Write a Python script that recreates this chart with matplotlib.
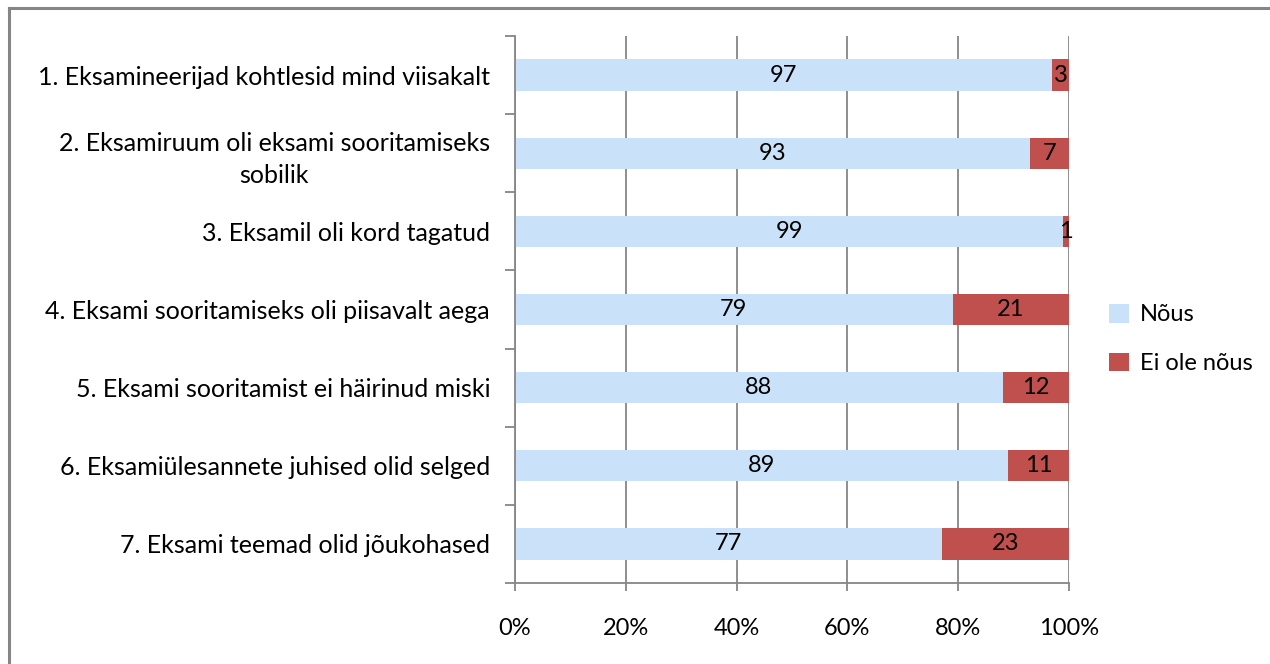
import matplotlib
matplotlib.use("Agg")
import matplotlib.pyplot as plt
from matplotlib.lines import Line2D
import numpy as np

plt.rcParams['font.family'] = ['Lato', 'DejaVu Sans']

categories = [
    "1. Eksamineerijad kohtlesid mind viisakalt",
    "2. Eksamiruum oli eksami sooritamiseks\nsobilik",
    "3. Eksamil oli kord tagatud",
    "4. Eksami sooritamiseks oli piisavalt aega",
    "5. Eksami sooritamist ei häirinud miski",
    "6. Eksamiülesannete juhised olid selged",
    "7. Eksami teemad olid jõukohased",
]
nous = [97, 93, 99, 79, 88, 89, 77]
ei_nous = [3, 7, 1, 21, 12, 11, 23]
series_names = ["Nõus", "Ei ole nõus"]
x_ticks = [0, 20, 40, 60, 80, 100]
x_ticklabels = ["0%", "20%", "40%", "60%", "80%", "100%"]

c_blue = "#C9E2FA"
c_red = "#C0504D"
gray = "#868686"

W, H = 1270, 664
fig = plt.figure(figsize=(W / 100, H / 100), dpi=100)

# outer frame (top and left)
fig.add_artist(Line2D([9 / W, 1268 / W], [1 - 8 / H, 1 - 8 / H], color=gray, lw=2.2))
fig.add_artist(Line2D([9 / W, 9 / W], [0, 1 - 8 / H], color=gray, lw=2.2))

ax = fig.add_axes([515 / W, 1 - 583 / H, (1069 - 515) / W, (583 - 36) / H])

n = len(categories)
y = np.arange(n)
bh = 0.4
b1 = ax.barh(y, nous, height=bh, color=c_blue, label=series_names[0])
b2 = ax.barh(y, ei_nous, left=nous, height=bh, color=c_red, label=series_names[1])

fs = 17
for i in range(n):
    ax.text(nous[i] / 2, y[i], str(nous[i]), ha='center', va='center', fontsize=fs, color='black')
    ax.text(nous[i] + ei_nous[i] / 2, y[i], str(ei_nous[i]), ha='center', va='center', fontsize=fs, color='black')

ax.set_xlim(0, 100)
ax.set_ylim(n - 0.5, -0.5)
ax.set_xticks(x_ticks)
ax.set_xticklabels(x_ticklabels, fontsize=fs)
ax.set_yticks(y)
ax.set_yticklabels(categories, fontsize=18, multialignment='center', linespacing=1.45)
ax.set_yticks(np.arange(n + 1) - 0.5, minor=True)
ax.tick_params(axis='y', which='major', length=0, pad=18)
ax.tick_params(axis='y', which='minor', length=7, color=gray, width=1.3, direction='out')
ax.tick_params(axis='x', which='major', length=6, color=gray, width=1.3, direction='out', pad=19)

ax.grid(axis='x', color=gray, lw=1.3)
ax.set_axisbelow(True)
for s in ['top', 'right']:
    ax.spines[s].set_visible(False)
for s in ['left', 'bottom']:
    ax.spines[s].set_color(gray)
    ax.spines[s].set_linewidth(1.3)

leg = fig.legend(handles=[b1, b2], labels=series_names, loc='center left',
                 bbox_to_anchor=(1088 / W, 1 - 339 / H), frameon=False,
                 fontsize=fs, handlelength=0.85, handleheight=0.85,
                 labelspacing=1.15, handletextpad=0.45)

fig.savefig("out.png", dpi=100, facecolor='white')
